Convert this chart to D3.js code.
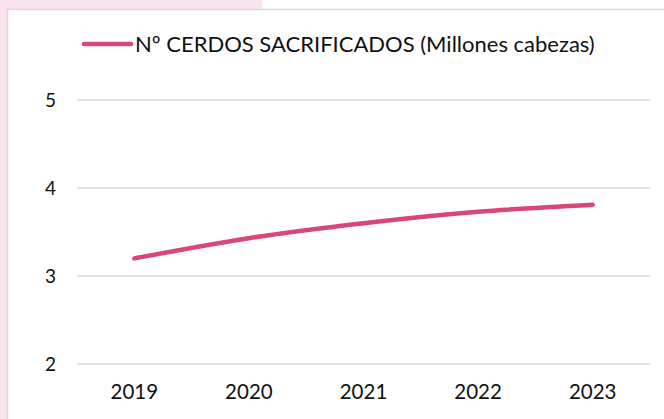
<!DOCTYPE html>
<html>
<head>
<meta charset="utf-8">
<script src="https://cdn.jsdelivr.net/npm/d3@7"></script>
<style>
  body { margin: 0; background: #fff; }
  text { font-family: Lato, "Open Sans", sans-serif; fill: #111; }
</style>
</head>
<body>
<div id="graf"></div>
<script>
// datos
anios = ['2019', '2020', '2021', '2022', '2023']
cerdos = [3.20, 3.43, 3.60, 3.73, 3.81]
ticksY = [2, 3, 4, 5]
serie = 'Nº CERDOS SACRIFICADOS (Millones cabezas)'

ancho_total = 664
alto_total = 419
margins = { top: 100, left: 77, right: 14, bottom: 55 }
ancho = ancho_total - margins.left - margins.right
alto = alto_total - margins.top - margins.bottom

svg = d3.select('#graf').append('svg')
        .attr('width', ancho_total)
        .attr('height', alto_total)

// fondo rosa y marco
svg.append('rect').attr('x', 0).attr('y', 0).attr('width', 7).attr('height', alto_total).attr('fill', '#fae3ee')
svg.append('rect').attr('x', 0).attr('y', 0).attr('width', 262).attr('height', 9).attr('fill', '#fae3ee')
svg.append('rect')
   .attr('x', 7.5).attr('y', 9.5)
   .attr('width', ancho_total + 10).attr('height', alto_total + 10)
   .attr('fill', '#fff')
   .attr('stroke', '#d9d9d9')
   .attr('stroke-width', 1.5)

g = svg.append('g')
       .attr('transform', `translate(${margins.left}, ${margins.top})`)

x = d3.scaleBand().domain(anios).range([0, ancho])
y = d3.scaleLinear().domain([2, 5]).range([alto, 0])

// rejilla
g.selectAll('.grid').data(ticksY).enter()
 .append('line')
   .attr('x1', 0).attr('x2', ancho)
   .attr('y1', d => y(d)).attr('y2', d => y(d))
   .attr('stroke', '#d9d9d9')
   .attr('stroke-width', 1.5)

yAxisGroup = g.append('g')
yAxisGroup.call(d3.axisLeft(y).tickValues(ticksY).tickFormat(d3.format('d')).tickSize(0).tickPadding(21))
yAxisGroup.select('.domain').remove()
yAxisGroup.selectAll('text').style('font-size', '19px').attr('fill', '#111')

xAxisGroup = g.append('g').attr('transform', `translate(0, ${alto})`)
xAxisGroup.call(d3.axisBottom(x).tickSize(0).tickPadding(20))
xAxisGroup.select('.domain').remove()
xAxisGroup.selectAll('text').style('font-size', '20.5px').attr('fill', '#111')

linea = d3.line()
          .x((d, i) => x(anios[i]) + x.bandwidth() / 2)
          .y(d => y(d))
          .curve(d3.curveMonotoneX)

g.append('path')
 .datum(cerdos)
 .attr('d', linea)
 .attr('fill', 'none')
 .attr('stroke', '#d8467b')
 .attr('stroke-width', 4.5)
 .attr('stroke-linecap', 'round')

// leyenda
leyenda = svg.append('g').attr('transform', 'translate(83, 44)')
leyenda.append('line')
       .attr('x1', 1).attr('x2', 48)
       .attr('stroke', '#d8467b').attr('stroke-width', 4.5).attr('stroke-linecap', 'round')
leyenda.append('text')
       .attr('x', 52).attr('dy', '0.35em')
       .style('font-size', '22px')
       .text(serie)
</script>
</body>
</html>
